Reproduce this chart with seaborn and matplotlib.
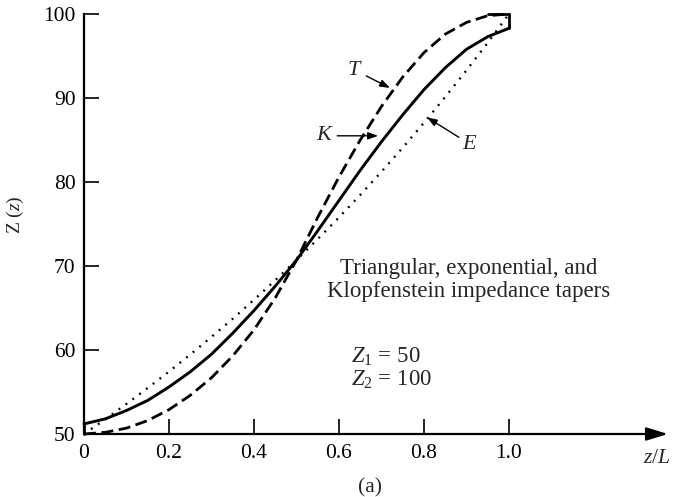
import matplotlib
matplotlib.use("Agg")
import matplotlib.pyplot as plt
import seaborn as sns
import pandas as pd

# Normalised position along the taper
z_over_L = [0.00, 0.05, 0.10, 0.15, 0.20, 0.25, 0.30, 0.35, 0.40, 0.45, 0.50,
            0.55, 0.60, 0.65, 0.70, 0.75, 0.80, 0.85, 0.90, 0.95, 1.00]

# Impedance profiles Z(z)
triangular = [50.0, 50.2, 50.7, 51.6, 52.9, 54.6, 56.7, 59.3, 62.4, 66.2, 70.7,
              75.8, 80.6, 85.0, 89.0, 92.5, 95.4, 97.6, 99.0, 99.8, 100.0]
exponential = [50.0, 51.75, 53.59, 55.48, 57.43, 59.46, 61.56, 63.72, 65.98, 68.30, 70.71,
               73.21, 75.79, 78.46, 81.23, 84.09, 87.06, 90.13, 93.30, 96.59, 100.0]
klopfenstein = [51.2, 51.8, 52.8, 54.0, 55.6, 57.4, 59.5, 62.0, 64.7, 67.6, 70.7,
                74.2, 77.8, 81.4, 84.8, 88.0, 91.0, 93.6, 95.8, 97.3, 98.3]

Z1 = 50
Z2 = 100

x_ticks = [0.0, 0.2, 0.4, 0.6, 0.8, 1.0]
x_tick_labels = ["0", "0.2", "0.4", "0.6", "0.8", "1.0"]
y_ticks = [50, 60, 70, 80, 90, 100]
y_tick_labels = ["50", "60", "70", "80", "90", "100"]

sns.set_style("white")
plt.rcParams["font.family"] = ["Liberation Serif", "DejaVu Serif"]
plt.rcParams["mathtext.fontset"] = "custom"
plt.rcParams["mathtext.rm"] = "Liberation Serif"
plt.rcParams["mathtext.it"] = "Liberation Serif:italic"

df = pd.DataFrame({"x": z_over_L, "T": triangular, "E": exponential, "K": klopfenstein})

W, H = 676, 497
fig = plt.figure(figsize=(W / 100, H / 100), dpi=100)
# axes: x=0 at px 84, 425 px per unit; y=50 at px 434, 8.4 px per unit
x_max = (670 - 84) / 425
y_max = 100.5
ax_w = 670 - 84
ax_h = (y_max - 50) * 8.4
ax = fig.add_axes([84 / W, (H - 434) / H, ax_w / W, ax_h / H])
ax.set_xlim(0, x_max)
ax.set_ylim(50, y_max)

sns.lineplot(data=df, x="x", y="T", ax=ax, color="black", lw=2.0,
             linestyle=(0, (4.3, 2.0)), clip_on=False)
sns.lineplot(data=df, x="x", y="K", ax=ax, color="black", lw=2.1, clip_on=False)
sns.lineplot(data=df, x="x", y="E", ax=ax, color="black", lw=1.7,
             linestyle=(0, (0.8, 2.8)), clip_on=False)

# end steps of the Klopfenstein taper and the closing segment at Z2
ax.plot([z_over_L[0], z_over_L[0]], [Z1, klopfenstein[0]], color="black", lw=2.0, clip_on=False)
ax.plot([z_over_L[-1], z_over_L[-1]], [klopfenstein[-1], Z2], color="black", lw=2.0, clip_on=False)
ax.plot([z_over_L[-2], z_over_L[-1]], [Z2, Z2], color="black", lw=2.0, clip_on=False)

# axes styling
for side in ["top", "right", "bottom"]:
    ax.spines[side].set_visible(False)
ax.spines["left"].set_bounds(50, 100)
ax.spines["left"].set_linewidth(1.6)
ax.spines["left"].set_color("black")

ax.annotate("", xy=(x_max - 0.005, 50), xytext=(0, 50),
            arrowprops=dict(arrowstyle="-|>,head_length=0.65,head_width=0.2",
                            mutation_scale=20, lw=1.6, color="black",
                            shrinkA=0, shrinkB=0),
            annotation_clip=False)

ax.set_xticks(x_ticks)
ax.set_xticklabels(x_tick_labels)
ax.set_yticks(y_ticks)
ax.set_yticklabels(y_tick_labels)
ax.tick_params(axis="both", direction="in", length=11, width=1.2, colors="black",
               labelsize=15.5)
ax.tick_params(axis="x", pad=7, bottom=True)
ax.tick_params(axis="y", pad=6, left=True)
ax.set_xlabel("")
ax.set_ylabel("")

# curve labels
arrow_kw = dict(arrowstyle="-|>,head_length=0.5,head_width=0.18", mutation_scale=12,
                lw=1.0, color="black", shrinkA=0, shrinkB=0)
ax.annotate("$T$", xy=(0.72, 91.2), xytext=(0.638, 93.3), fontsize=16,
            ha="center", va="center", arrowprops=arrow_kw)
ax.annotate("$K$", xy=(0.692, 85.5), xytext=(0.567, 85.5), fontsize=16,
            ha="center", va="center", arrowprops=arrow_kw)
ax.annotate("$E$", xy=(0.807, 87.7), xytext=(0.908, 84.5), fontsize=16,
            ha="center", va="center", arrowprops=arrow_kw)

ax.text(0.904, 68.3, "Triangular, exponential, and\nKlopfenstein impedance tapers",
        ha="center", va="center", fontsize=16.5, linespacing=1.1)
ax.text(0.628, 59.2, r"$Z_{\mathrm{1}}$ = 50", ha="left", va="center", fontsize=16.5)
ax.text(0.628, 56.4, r"$Z_{\mathrm{2}}$ = 100", ha="left", va="center", fontsize=16.5)

ax.text(1.348, 47.1, "$z/L$", ha="center", va="center", fontsize=15.5, clip_on=False)
ax.text(0.673, 43.6, "(a)", ha="center", va="center", fontsize=15.5, clip_on=False)
fig.text(15 / W, 1 - 215 / H, "Z ($z$)", rotation=90, ha="center", va="center",
         fontsize=14)

fig.savefig("out.png", dpi=100)
